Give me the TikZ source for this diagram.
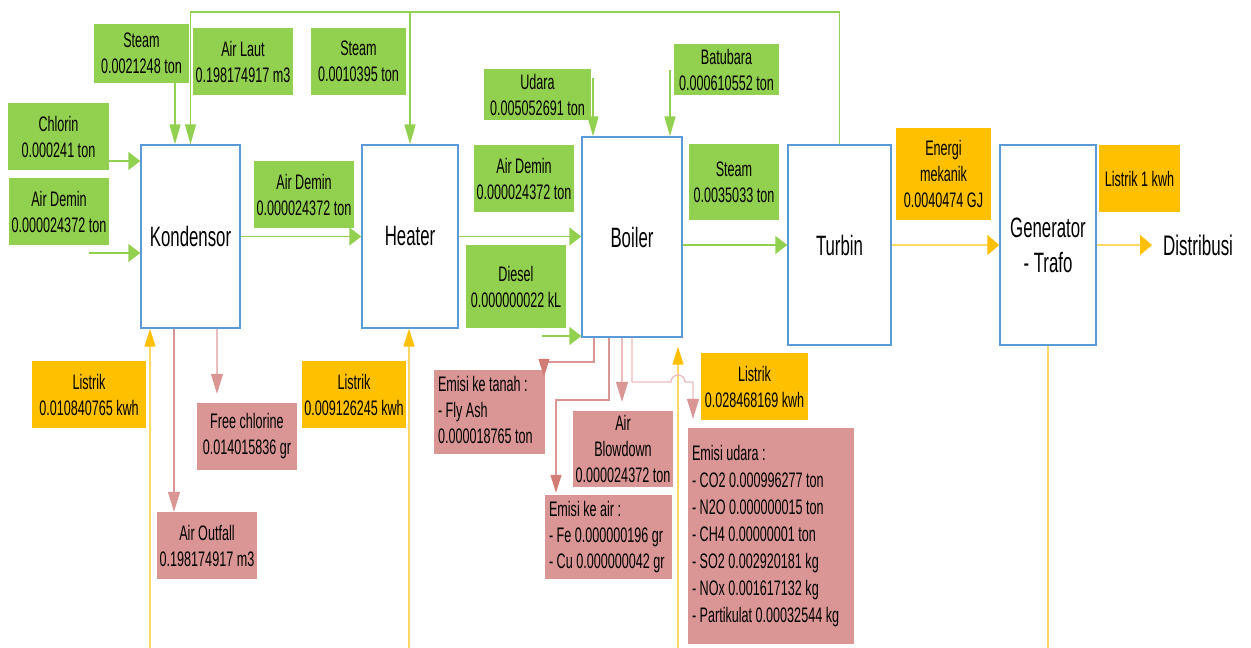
\documentclass[tikz,border=0pt]{standalone}
\usepackage{fontspec}
\setmainfont{Liberation Sans}[FakeStretch=0.6]
\usetikzlibrary{arrows.meta}

\definecolor{gfill}{HTML}{92D050}
\definecolor{ofill}{HTML}{FFC000}
\definecolor{pfill}{HTML}{DA9694}
\definecolor{pblue}{HTML}{5B9BD5}
\definecolor{gline}{HTML}{92D050}
\definecolor{yline}{HTML}{FFD966}
\definecolor{ytip}{HTML}{FFC000}
\definecolor{pline}{HTML}{DA9694}
\definecolor{plight}{HTML}{EBBDBC}
\definecolor{ptip}{HTML}{DA9694}
\definecolor{pdark}{HTML}{D27C76}

% left-aligned block of lines inside a box of given inner width
\newcommand{\leftlines}[2]{\makebox[#1][l]{\begin{tabular}{@{}l@{}}#2\end{tabular}}}

\tikzset{
  lbl/.style={inner sep=0pt, align=center, font=\fontsize{21}{26}\selectfont},
  gbox/.style={lbl, fill=gfill},
  obox/.style={lbl, fill=ofill},
  pbox/.style={lbl, fill=pfill},
  pboxl/.style={inner sep=0pt, fill=pfill, font=\fontsize{21}{26}\selectfont},
  proc/.style={draw=pblue, line width=1.4pt, fill=white, inner sep=0pt,
               align=center, font=\fontsize{28}{35}\selectfont},
  gflow/.style={draw=gline, line width=1.5pt},
  yflow/.style={draw=yline, line width=1.5pt},
  pflow/.style={draw=pline, line width=1.3pt},
  plflow/.style={draw=plight, line width=1.3pt},
  ghtip/.style={-{Triangle[length=12pt,width=18pt,color=gline]}},
  gvtip/.style={-{Triangle[length=20pt,width=11pt,color=gline]}},
  yhtip/.style={-{Triangle[length=12pt,width=20pt,color=ytip]}},
  yvtip/.style={-{Triangle[length=18pt,width=11pt,color=ytip]}},
  pvtip/.style={-{Triangle[length=20pt,width=12pt,color=ptip]}},
  pdtip/.style={-{Triangle[length=18pt,width=11pt,color=pdark]}},
}

\begin{document}
\begin{tikzpicture}[x=1pt,y=-1pt]
\useasboundingbox[fill=white] (0,0) rectangle (1251,648);

% process units
\node[proc, minimum width=99pt, minimum height=183pt] (K) at (190.5,236.5) {Kondensor};
\node[proc, minimum width=96pt, minimum height=183pt] (H) at (410,236.5) {Heater};
\node[proc, minimum width=100pt, minimum height=200pt] (B) at (632,237) {Boiler};
\node[proc, minimum width=103pt, minimum height=200pt] (T) at (839.5,245) {Turbin};
\node[proc, minimum width=96pt, minimum height=200pt] (G) at (1048,245) {Generator\\- Trafo};
\node[inner sep=0pt, anchor=west, font=\fontsize{28.3}{34}\selectfont] (dist) at (1163,245) {Distribusi};

% material inputs
\node[gbox, minimum width=95pt, minimum height=59pt] (s1) at (141.5,53.5) {Steam\\0.0021248 ton};
\node[gbox, minimum width=100pt, minimum height=67pt] (al) at (243,61.5) {Air Laut\\0.198174917 m3};
\node[gbox, minimum width=95pt, minimum height=67pt] (s2) at (358.5,61.5) {Steam\\0.0010395 ton};
\node[gbox, minimum width=101pt, minimum height=67pt] (cl) at (58.5,136.5) {Chlorin\\0.000241 ton};
\node[gbox, minimum width=100pt, minimum height=67pt] (ad1) at (59,211.5) {Air Demin\\0.000024372 ton};
\node[gbox, minimum width=100pt, minimum height=67pt] (ad2) at (304,194.5) {Air Demin\\0.000024372 ton};
\node[gbox, minimum width=107pt, minimum height=51pt] (ud) at (537.5,94.5) {Udara\\0.005052691 ton};
\node[gbox, minimum width=105pt, minimum height=51pt] (bb) at (726.5,69.5) {Batubara\\0.000610552 ton};
\node[gbox, minimum width=100pt, minimum height=67pt] (ad3) at (524,178.5) {Air Demin\\0.000024372 ton};
\node[gbox, minimum width=100pt, minimum height=83pt] (ds) at (516,286.5) {Diesel\\0.000000022 kL};
\node[gbox, minimum width=90pt, minimum height=76pt] (s3) at (734,182) {Steam\\0.0035033 ton};

% energy
\node[obox, minimum width=95pt, minimum height=92pt] (em) at (943.5,174) {Energi\\mekanik\\0.0040474 GJ};
\node[obox, minimum width=81pt, minimum height=67pt] (l1) at (1139.5,178.5) {Listrik 1 kwh};
\node[obox, minimum width=114pt, minimum height=67pt] (lk) at (89,394.5) {Listrik\\0.010840765 kwh};
\node[obox, minimum width=104pt, minimum height=67pt] (lh) at (354,394.5) {Listrik\\0.009126245 kwh};
\node[obox, minimum width=107pt, minimum height=67pt] (lb) at (754.5,386.5) {Listrik\\0.028468169 kwh};

% outputs and emissions
\node[pbox, minimum width=100pt, minimum height=67pt] (fc) at (247,436.5) {Free chlorine\\0.014015836 gr};
\node[pbox, minimum width=100pt, minimum height=67pt] (ao) at (207,545.5) {Air Outfall\\0.198174917 m3};
\node[pboxl, minimum width=111pt, minimum height=84pt] (et) at (489.5,412)
  {\leftlines{103pt}{Emisi ke tanah :\\- Fly Ash\\0.000018765 ton}};
\node[pbox, minimum width=100pt, minimum height=76pt] (ab) at (623,449) {Air\\Blowdown\\0.000024372 ton};
\node[pboxl, minimum width=127pt, minimum height=84pt] (ea) at (608.5,537)
  {\leftlines{119pt}{Emisi ke air :\\- Fe 0.000000196 gr\\- Cu 0.000000042 gr}};
\node[pboxl, minimum width=166pt, minimum height=216pt, font=\fontsize{21}{27}\selectfont] (eu) at (771,536)
  {\leftlines{158pt}{Emisi udara :\\- CO2 0.000996277 ton\\- N2O 0.000000015 ton\\- CH4 0.00000001 ton\\- SO2 0.002920181 kg\\- NOx 0.001617132 kg\\- Partikulat 0.00032544 kg}};

% helper coordinates for free ends and bends
\coordinate (topY) at (0,12);
\coordinate (xS1) at (175,0);
\coordinate (yChl) at (0,161);
\coordinate (adin) at (89,253);
\coordinate (udin) at (593,78);
\coordinate (bbin) at (670,70);
\coordinate (dsin) at (542,336);
\coordinate (kin) at (150,648);
\coordinate (hin) at (409,648);
\coordinate (bin) at (678,648);
\coordinate (gout) at (1048,648);
\coordinate (xAO) at (174,0);
\coordinate (xFC) at (217,0);
\coordinate (etA) at (594,0);
\coordinate (etB) at (544,362);
\coordinate (eaA) at (609,0);
\coordinate (eaB) at (556,400);
\coordinate (xAB) at (622,0);
\coordinate (euB) at (693,382);

% green material flows
\draw[gflow, gvtip] (s1.south -| xS1) -- (K.north -| xS1);
\draw[gflow, gvtip] (T.north) |- (K.north |- topY) -- (K.north);
\draw[gflow, gvtip] (H.north |- topY) -- (H.north);
\draw[gflow, ghtip] (cl.east |- yChl) -- (K.west |- yChl);
\draw[gflow, ghtip] (adin) -- (K.west |- adin);
\draw[gflow, ghtip] (K.east) -- (H.west |- K.east);
\draw[gflow, ghtip] (H.east) -- (B.west |- H.east);
\draw[gflow, gvtip] (udin) -- (B.north -| udin);
\draw[gflow, gvtip] (bbin) -- (B.north -| bbin);
\draw[gflow, ghtip] (dsin) -- (B.west |- dsin);
\draw[gflow, ghtip] (B.east |- T.west) -- (T.west);

% energy flows
\draw[yflow, yhtip] (T.east) -- (G.west);
\draw[yflow, yhtip] (G.east) -- ([xshift=-11pt]dist.west);
\draw[yflow, yvtip] (kin) -- (K.south -| kin);
\draw[yflow, yvtip] (hin) -- (H.south -| hin);
\draw[yflow, yvtip, shorten >=9pt] (bin) -- (B.south -| bin);
\draw[yflow] (G.south) -- (gout);

% waste and emission flows
\draw[pflow, pvtip] (K.south -| xAO) -- (ao.north -| xAO);
\draw[plflow, pvtip, shorten >=9pt] (K.south -| xFC) -- (fc.north -| xFC);
\draw[pflow, pdtip, shorten >=-7pt] (B.south -| etA) |- (etB) -- (et.north -| etB);
\draw[pflow, pdtip, shorten >=2pt] (B.south -| eaA) |- (eaB) -- (ea.north -| eaB);
\draw[plflow, pvtip, shorten >=9pt] (B.south -| xAB) -- (ab.north -| xAB);
\draw[plflow, pvtip, shorten >=9pt] (B.south) |- (671,382) arc[start angle=180, end angle=0, radius=7pt] -- (euB) -- (eu.north -| euB);

\end{tikzpicture}
\end{document}
